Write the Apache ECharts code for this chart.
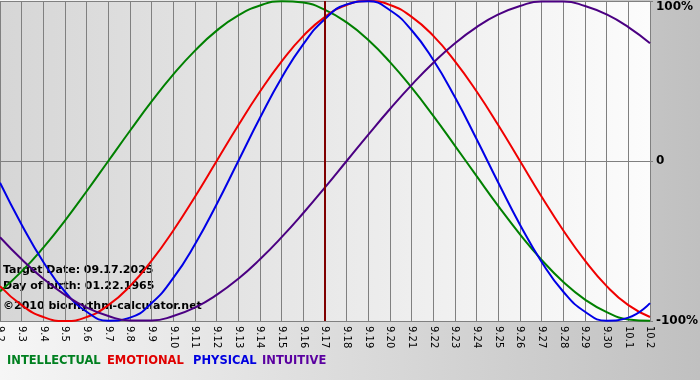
<!DOCTYPE html>
<html><head><meta charset="utf-8">
<script src="https://cdn.jsdelivr.net/npm/echarts@6/dist/echarts.min.js"></script>
<style>html,body{margin:0;padding:0;}#c{width:700px;height:380px;}</style>
</head><body><div id="c"></div>
<script>
const days = ['9.2','9.3','9.4','9.5','9.6','9.7','9.8','9.9','9.10','9.11','9.12','9.13','9.14','9.15','9.16','9.17','9.18','9.19','9.20','9.21','9.22','9.23','9.24','9.25','9.26','9.27','9.28','9.29','9.30','10.1','10.2'];
const intellectual = [-0.815,-0.690,-0.541,-0.372,-0.189,0,0.189,0.372,0.541,0.690,0.815,0.910,0.972,0.999,0.990,0.945,0.866,0.756,0.618,0.458,0.282,0.095,-0.095,-0.282,-0.458,-0.618,-0.756,-0.866,-0.945,-0.990,-0.999];
const emotional = [-0.782,-0.901,-0.975,-1,-0.975,-0.901,-0.782,-0.623,-0.434,-0.223,0,0.223,0.434,0.623,0.782,0.901,0.975,1,0.975,0.901,0.782,0.623,0.434,0.223,0,-0.223,-0.434,-0.623,-0.782,-0.901,-0.975];
const physical = [-0.136,-0.398,-0.631,-0.817,-0.942,-0.998,-0.979,-0.888,-0.731,-0.520,-0.270,0,0.270,0.520,0.731,0.888,0.979,0.998,0.942,0.817,0.631,0.398,0.136,-0.136,-0.398,-0.631,-0.817,-0.942,-0.998,-0.979,-0.888];
const intuitive = [-0.476,-0.614,-0.736,-0.837,-0.916,-0.969,-0.997,-0.997,-0.969,-0.916,-0.837,-0.736,-0.614,-0.476,-0.325,-0.165,0,0.165,0.325,0.476,0.614,0.736,0.837,0.916,0.969,0.997,0.997,0.969,0.916,0.837,0.736];
const targetDay = '9.17';
const yTicks = {'-1':'-100%','0':'0','1':'100%'};

const chart = echarts.init(document.getElementById('c'), null, {renderer:'canvas'});
const FONT = 'DejaVu Sans';
function line(name, data, color, extra) {
  return Object.assign({
    name, type:'line', data, smooth:true, symbol:'none',
    lineStyle:{color, width:2}, itemStyle:{color}, silent:true, animation:false
  }, extra||{});
}
const LF = 'bold 11.5px "DejaVu Sans"';
chart.setOption({
  animation:false,
  backgroundColor: new echarts.graphic.LinearGradient(0,0,1,0,[{offset:0,color:'#f6f6f6'},{offset:1,color:'#c0c0c0'}]),
  grid:{left:0,right:50,top:1,bottom:59,show:true,borderWidth:0,outerBoundsMode:'none',containLabel:false,
    backgroundColor:new echarts.graphic.LinearGradient(0,0,1,0,[{offset:0,color:'#d6d6d6'},{offset:1,color:'#fcfcfc'}])},
  xAxis:{type:'category',data:days,boundaryGap:false,
    axisLine:{show:true,lineStyle:{color:'#808080',width:1}},
    axisTick:{show:true,interval:0,length:4,lineStyle:{color:'#808080'}},
    axisLabel:{interval:0,rotate:-90,fontFamily:FONT,fontSize:10,color:'#000',margin:5,hideOverlap:false},
    splitLine:{show:true,interval:0,lineStyle:{color:'#808080',width:1}}},
  yAxis:{type:'value',position:'right',min:-1,max:1,interval:1,
    axisLine:{show:false},
    axisTick:{show:true,length:3,lineStyle:{color:'#808080'}},
    axisLabel:{fontFamily:FONT,fontSize:12,fontWeight:'bold',color:'#000',margin:6,
      formatter:v=> v===1 ? '{t|'+yTicks['1']+'}' : yTicks[String(v)],
      rich:{t:{fontFamily:FONT,fontSize:12,fontWeight:'bold',color:'#000',padding:[12,0,0,0]}}},
    splitLine:{show:true,lineStyle:{color:'#808080',width:1}}},
  series:[
    line('INTELLECTUAL',intellectual,'#008000'),
    line('EMOTIONAL',emotional,'#f00000'),
    line('PHYSICAL',physical,'#0000e6'),
    line('INTUITIVE',intuitive,'#4b0082',{markLine:{silent:true,symbol:'none',animation:false,
      label:{show:false},lineStyle:{color:'#800000',width:2,type:'solid'},data:[{xAxis:targetDay}]}})
  ],
  graphic:[
    {type:'text',left:3,top:265,style:{text:'Target Date: 09.17.2025',font:'bold 11px "DejaVu Sans"',fill:'#000'}},
    {type:'text',left:3,top:281,style:{text:'Day of birth: 01.22.1965',font:'bold 11px "DejaVu Sans"',fill:'#000'}},
    {type:'text',left:3,top:301,style:{text:'©2010 biorhythm-calculator.net',font:'bold 11px "DejaVu Sans"',fill:'#000'}},
    {type:'text',left:7,top:355,style:{text:'INTELLECTUAL',font:LF,fill:'#008020'}},
    {type:'text',left:107,top:355,style:{text:'EMOTIONAL',font:LF,fill:'#e00000'}},
    {type:'text',left:193,top:355,style:{text:'PHYSICAL',font:LF,fill:'#0000e0'}},
    {type:'text',left:262,top:355,style:{text:'INTUITIVE',font:LF,fill:'#5a00a0'}}
  ]
});
</script></body></html>
